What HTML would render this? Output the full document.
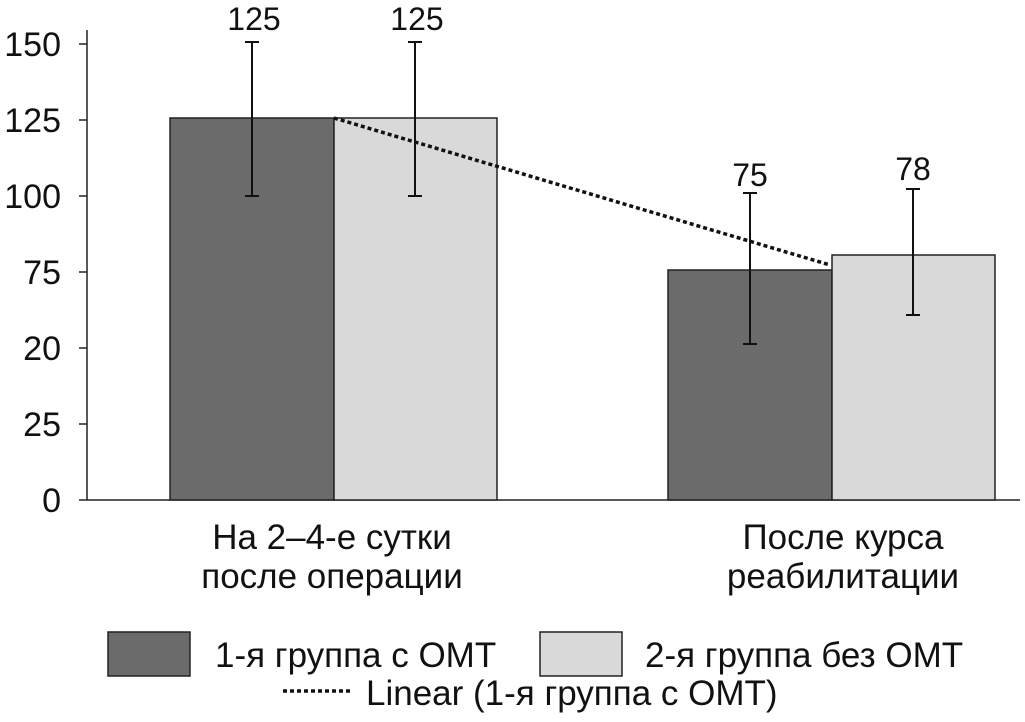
<!DOCTYPE html>
<html><head><meta charset="utf-8"><style>
html,body{margin:0;padding:0;background:#fff;}
svg text{font-family:"Liberation Sans",Arial,sans-serif;fill:#111;}
</style></head><body>
<svg width="1025" height="717" viewBox="0 0 1025 717" xmlns="http://www.w3.org/2000/svg">
<g stroke="#222" stroke-width="1.5">
<line x1="87" y1="30" x2="87" y2="500"/>
<line x1="87" y1="500" x2="1020" y2="500"/>
<line x1="79" y1="44" x2="87" y2="44"/>
<line x1="79" y1="120" x2="87" y2="120"/>
<line x1="79" y1="196" x2="87" y2="196"/>
<line x1="79" y1="272" x2="87" y2="272"/>
<line x1="79" y1="348" x2="87" y2="348"/>
<line x1="79" y1="424" x2="87" y2="424"/>
<line x1="79" y1="500" x2="87" y2="500"/>
</g>
<g font-size="34" text-anchor="end">
<text x="61" y="56">150</text>
<text x="61" y="132">125</text>
<text x="61" y="208">100</text>
<text x="61" y="284">75</text>
<text x="61" y="360">20</text>
<text x="61" y="436">25</text>
<text x="61" y="512">0</text>
</g>
<g stroke="#222" stroke-width="1.5">
<rect x="170" y="118" width="164" height="382" fill="#6b6b6b"/>
<rect x="334" y="118" width="163" height="382" fill="#d9d9d9"/>
<rect x="668" y="270" width="164" height="230" fill="#6b6b6b"/>
<rect x="832" y="255" width="163" height="245" fill="#d9d9d9"/>
</g>
<g stroke="#111" stroke-width="2">
<line x1="252" y1="42" x2="252" y2="196"/><line x1="245" y1="42" x2="259" y2="42"/><line x1="245" y1="196" x2="259" y2="196"/>
<line x1="415" y1="42" x2="415" y2="196"/><line x1="408" y1="42" x2="422" y2="42"/><line x1="408" y1="196" x2="422" y2="196"/>
<line x1="750" y1="193" x2="750" y2="344"/><line x1="743" y1="193" x2="757" y2="193"/><line x1="743" y1="344" x2="757" y2="344"/>
<line x1="913" y1="189" x2="913" y2="315"/><line x1="906" y1="189" x2="920" y2="189"/><line x1="906" y1="315" x2="920" y2="315"/>
</g>
<line x1="334" y1="118" x2="830" y2="265" stroke="#111" stroke-width="3.5" stroke-dasharray="4,3"/>
<g font-size="32" text-anchor="middle">
<text x="254" y="30">125</text>
<text x="417" y="30">125</text>
<text x="750" y="186">75</text>
<text x="913" y="180">78</text>
</g>
<g font-size="35" text-anchor="middle">
<text x="332" y="549">На 2–4-е сутки</text>
<text x="332" y="588">после операции</text>
<text x="843" y="549">После курса</text>
<text x="843" y="588">реабилитации</text>
</g>
<rect x="108" y="632" width="82" height="44" fill="#6b6b6b" stroke="#222" stroke-width="1.5"/>
<rect x="540" y="632" width="82" height="44" fill="#d9d9d9" stroke="#222" stroke-width="1.5"/>
<line x1="283" y1="691" x2="352" y2="691" stroke="#111" stroke-width="3.5" stroke-dasharray="4,3"/>
<g font-size="35">
<text x="215" y="667">1-я группа с ОМТ</text>
<text x="645" y="667">2-я группа без ОМТ</text>
<text x="366" y="705">Linear (1-я группа с ОМТ)</text>
</g>
</svg>
</body></html>
